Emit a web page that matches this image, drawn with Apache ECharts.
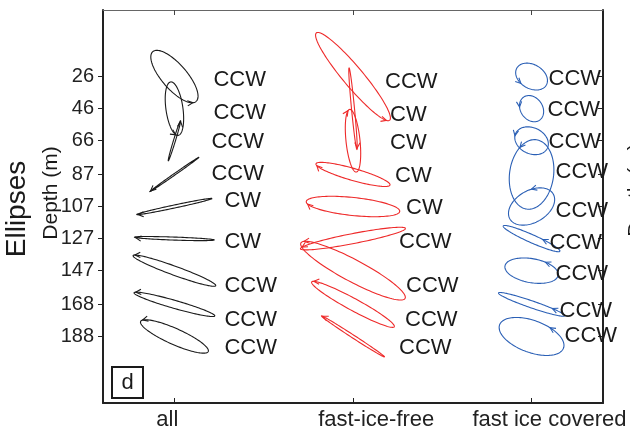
<!DOCTYPE html>
<html>
<head>
<meta charset="utf-8">
<script src="https://cdn.jsdelivr.net/npm/echarts@6/dist/echarts.min.js"></script>
<style>
  html, body { margin: 0; padding: 0; background: #fff; }
  #chart { width: 630px; height: 431px; }
</style>
</head>
<body>
<div id="chart"></div>
<script>
const columns = ['all', 'fast-ice-free', 'fast ice covered'];
const depthTicks = [26, 46, 66, 87, 107, 127, 147, 168, 188];

// tidal ellipse parameters per depth: semi-major / semi-minor (cm/s),
// inclination (deg, counterclockwise from east), phase where the arrow sits (deg)
const allMajor = [33, 27, 21, 30, 38.5, 40, 44, 42, 37];
const allMinor = [12.5, 8.5, 1, 0.8, 1.5, 1.5, 4.5, 4, 8];
const allIncl = [-49, 98, 73, 35, 12, -2, -20, -16, -24];
const allPhase = [345, 165, 345, 165, 195, 195, 165, 165, 165];
const allSense = ['CCW', 'CCW', 'CCW', 'CCW', 'CW', 'CW', 'CCW', 'CCW', 'CCW'];

const freeMajor = [57, 41, 31.5, 38.5, 47, 53.5, 59, 47, 37.6];
const freeMinor = [10, 1.5, 7, 6, 9, 5, 11, 6, 1.5];
const freeIncl = [-50, 95.5, 96, -16, -6, 11, -28, -28.5, -33];
const freePhase = [345, 195, 15, 195, 195, 165, 165, 165, 165];
const freeSense = ['CCW', 'CW', 'CW', 'CW', 'CW', 'CCW', 'CCW', 'CCW', 'CCW'];

const coveredMajor = [17, 14, 17.5, 35, 25, 31, 27, 35, 34];
const coveredMinor = [12, 11, 13, 22, 16, 4, 12, 3.5, 16];
const coveredIncl = [-30, -55, -25, 82, 30, -24, -10, -19, -20];
const coveredPhase = [250, 234, 191, 44, 70, 70, 63, 53, 65];
const coveredSense = ['CCW', 'CCW', 'CCW', 'CCW', 'CCW', 'CCW', 'CCW', 'CCW', 'CCW'];

// where each CW/CCW tag sits relative to its ellipse centre (px)
const allTagNudge = [[39, 3], [39, 4], [37, 1], [37, 0], [50, -6], [50, 3], [50, 15], [50, 16], [50, 12]];
const freeTagNudge = [[32, 5], [37, 6], [37, 2], [42, 2], [53, 1], [46, 3], [53, 15], [52, 16], [46, 12]];
const coveredTagNudge = [[17, 2], [16, 1], [17, 1], [24, -2], [24, 4], [18, 4], [24, 3], [28, 7], [33, 0]];

const xLabelSpots = [-0.04, 1.13, 2.1];
const VEL_SCALE = 0.0056; // x-axis units per cm/s
const FONT = '"Liberation Sans", Arial, sans-serif';

const buildRows = (col, major, minor, incl, phase, sense) =>
  depthTicks.map((d, i) => [col, d, major[i], minor[i], incl[i], phase[i], sense[i] === 'CW' ? -1 : 1]);

const makeRender = (color, sense, nudge) => (params, api) => {
  const c = api.coord([api.value(0), api.value(1)]);
  const unit = api.size([VEL_SCALE, 0])[0];
  const a = api.value(2) * unit;
  const b = api.value(3) * unit;
  const th = api.value(4) * Math.PI / 180;
  const ph = api.value(5) * Math.PI / 180;
  const dir = api.value(6);
  const ux = Math.cos(th), uy = -Math.sin(th);
  const wx = -Math.sin(th), wy = -Math.cos(th);

  const pts = [];
  for (let k = 0; k <= 120; k++) {
    const t = k / 120 * 2 * Math.PI;
    const p = a * Math.cos(t), q = b * Math.sin(t);
    pts.push([c[0] + p * ux + q * wx, c[1] + p * uy + q * wy]);
  }

  const tip = [
    c[0] + a * Math.cos(ph) * ux + b * Math.sin(ph) * wx,
    c[1] + a * Math.cos(ph) * uy + b * Math.sin(ph) * wy
  ];
  let dx = (-a * Math.sin(ph) * ux + b * Math.cos(ph) * wx) * dir;
  let dy = (-a * Math.sin(ph) * uy + b * Math.cos(ph) * wy) * dir;
  const len = Math.hypot(dx, dy) || 1;
  dx /= len; dy /= len;
  const wing = (ang) => {
    const ca = Math.cos(ang), sa = Math.sin(ang);
    const bx = -dx, by = -dy;
    return [tip[0] + 6 * (bx * ca - by * sa), tip[1] + 6 * (bx * sa + by * ca)];
  };
  const i = params.dataIndex;

  return {
    type: 'group',
    children: [
      { type: 'polyline', shape: { points: pts }, style: { stroke: color, fill: null, lineWidth: 1.1 } },
      { type: 'polyline', shape: { points: [wing(0.45), tip, wing(-0.45)] }, style: { stroke: color, fill: null, lineWidth: 1.1 } },
      {
        type: 'text',
        x: c[0] + nudge[i][0],
        y: c[1] + nudge[i][1],
        z2: 10,
        style: { text: sense[i], fill: '#1a1a1a', font: '22px ' + FONT, textAlign: 'left', textVerticalAlign: 'middle' }
      }
    ]
  };
};

const chart = echarts.init(document.getElementById('chart'));

chart.setOption({
  animation: false,
  grid: { left: 103, right: 27, top: 10, bottom: 26 },
  xAxis: [
    {
      type: 'value', min: -0.4, max: 2.4, position: 'bottom',
      axisLine: { show: true, onZero: false, lineStyle: { color: '#222', width: 2 } },
      axisTick: { show: true, inside: true, length: 5, customValues: [0, 1, 2], lineStyle: { color: '#222' } },
      axisLabel: {
        customValues: xLabelSpots, margin: 6, color: '#222', fontFamily: FONT, fontSize: 22,
        formatter: (v) => columns[Math.round(v)] || ''
      },
      splitLine: { show: false }
    },
    {
      type: 'value', min: -0.4, max: 2.4, position: 'top',
      axisLine: { show: true, onZero: false, lineStyle: { color: '#666', width: 1 } },
      axisTick: { show: true, inside: true, length: 5, customValues: [0, 1, 2], lineStyle: { color: '#444' } },
      axisLabel: { show: false },
      splitLine: { show: false }
    }
  ],
  yAxis: [
    {
      type: 'value', inverse: true, min: -15.5, max: 229.5, position: 'left',
      axisLine: { show: true, onZero: false, lineStyle: { color: '#222', width: 2 } },
      axisTick: { show: true, inside: false, length: 5, customValues: depthTicks, lineStyle: { color: '#222' } },
      axisLabel: { customValues: depthTicks, margin: 9, color: '#222', fontFamily: FONT, fontSize: 20 },
      splitLine: { show: false }
    },
    {
      type: 'value', inverse: true, min: -15.5, max: 229.5, position: 'right',
      axisLine: { show: true, onZero: false, lineStyle: { color: '#222', width: 2 } },
      axisTick: { show: true, inside: true, length: 5, customValues: depthTicks, lineStyle: { color: '#222' } },
      axisLabel: { show: false },
      splitLine: { show: false }
    }
  ],
  series: [
    {
      type: 'custom', name: columns[0],
      renderItem: makeRender('#1a1a1a', allSense, allTagNudge),
      data: buildRows(0, allMajor, allMinor, allIncl, allPhase, allSense)
    },
    {
      type: 'custom', name: columns[1],
      renderItem: makeRender('#ee2a2a', freeSense, freeTagNudge),
      data: buildRows(1, freeMajor, freeMinor, freeIncl, freePhase, freeSense)
    },
    {
      type: 'custom', name: columns[2],
      renderItem: makeRender('#2a5fb5', coveredSense, coveredTagNudge),
      data: buildRows(2, coveredMajor, coveredMinor, coveredIncl, coveredPhase, coveredSense)
    }
  ],
  graphic: [
    {
      type: 'text', x: 17, y: 209, rotation: Math.PI / 2,
      style: { text: 'Ellipses', font: '28px ' + FONT, fill: '#1a1a1a', textAlign: 'center', textVerticalAlign: 'middle' }
    },
    {
      type: 'text', x: 51, y: 193, rotation: Math.PI / 2,
      style: { text: 'Depth (m)', font: '21px ' + FONT, fill: '#1a1a1a', textAlign: 'center', textVerticalAlign: 'middle' }
    },
    {
      type: 'text', x: 636, y: 190, rotation: Math.PI / 2,
      style: { text: 'Depth (m)', font: '21px ' + FONT, fill: '#1a1a1a', textAlign: 'center', textVerticalAlign: 'middle' }
    },
    {
      type: 'rect', shape: { x: 112, y: 367, width: 31, height: 31 },
      style: { fill: '#fff', stroke: '#1a1a1a', lineWidth: 2 }
    },
    {
      type: 'text', x: 127.5, y: 382.5,
      style: { text: 'd', font: '22px ' + FONT, fill: '#1a1a1a', textAlign: 'center', textVerticalAlign: 'middle' }
    }
  ]
});
</script>
</body>
</html>
